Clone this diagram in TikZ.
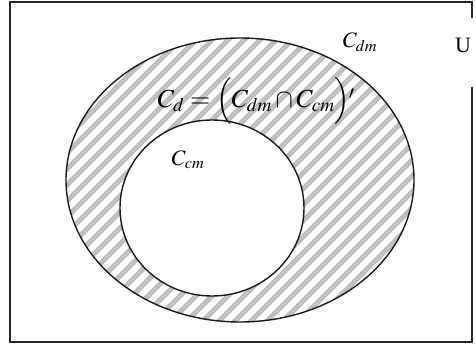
\documentclass[tikz,border=0pt]{standalone}
\usepackage{mathptmx}
\usepackage{fontspec}
\setmainfont{Liberation Serif}
\begin{document}
\begin{tikzpicture}[x=1pt,y=-1pt,
  frame/.style={line width=1.6pt,draw=black!85},
  ring/.style={line width=1.4pt,draw=black!90},
  stripe/.style={line width=5pt,draw=black!25},
  lbl/.style={inner sep=0pt,font=\fontsize{22}{24}\selectfont}]
\useasboundingbox (0,0) rectangle (476,344);
% frame with gap at the universe label
\draw[frame] (472,18) -- (472,2) -- (10,2) -- (10,342) -- (472,342) -- (472,87);
% hatched ring
\begin{scope}
  \clip (240,180) ellipse [x radius=174, y radius=142];
  \foreach \k in {-420,-404,...,500}
    \draw[stripe] (\k,400) -- (\k+400,0);
\end{scope}
\fill[white] (212,208) ellipse [x radius=92, y radius=88];
\draw[ring] (240,180) ellipse [x radius=174, y radius=142];
\draw[ring] (212,208) ellipse [x radius=92, y radius=88];
% labels
\node[lbl] (u) at (463,45) {U};
\node[lbl] (cdm) at (360,42) {$C_{dm}$};
\node[lbl,font=\fontsize{26}{28}\selectfont] (cd) at (256,101)
  {$C_d = \Bigl(C_{dm} \cap C_{cm}\Bigr)\mkern-1mu\raisebox{0.3em}{$\scriptstyle\prime$}$};
\node[lbl] (ccm) at (188,160) {$C_{cm}$};
\end{tikzpicture}
\end{document}
